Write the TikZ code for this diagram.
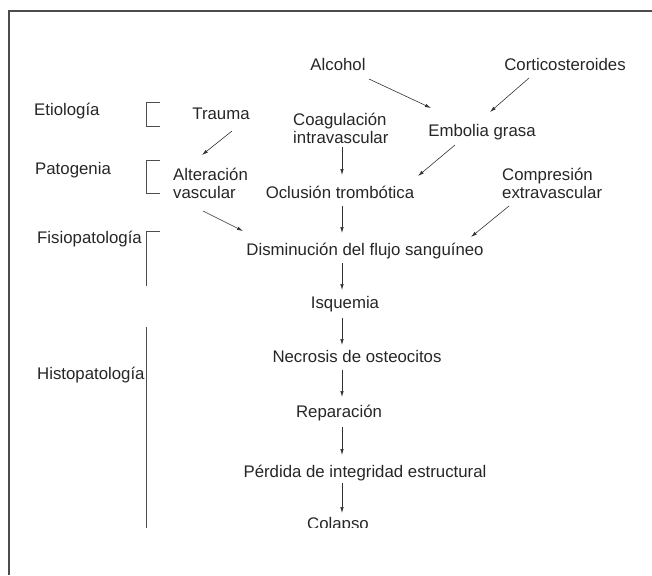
\documentclass[tikz,border=0pt]{standalone}
\usepackage{fontspec}
\setmainfont{Liberation Sans}
\usetikzlibrary{arrows.meta}
\newcommand\dfont{\fontsize{16.8}{18}\selectfont}
\begin{document}
\begin{tikzpicture}[x=1pt,y=-1pt,
 txt/.style={inner sep=0pt, font=\dfont, text=black!85},
 lbl/.style={txt, anchor=base west},
 ctr/.style={txt, anchor=base},
 two/.style={txt, anchor=north west, align=left},
 arr/.style={draw=black!80, line width=0.6pt, -{Latex[length=6pt,width=3.5pt]}},
 brk/.style={draw=black!70, line width=0.8pt},
 frame/.style={draw=black!70, line width=1.6pt}]
\useasboundingbox (0,0) rectangle (652,575);
% frame
\draw[frame] (652,11) -- (9,11) -- (9,575);
% stage labels
\node[lbl] (eti) at (34,115) {Etiología};
\node[lbl] (pat) at (35,174) {Patogenia};
\node[lbl] (fis) at (37,243) {Fisiopatología};
\node[lbl] (his) at (37,379) {Histopatología};
% brackets
\draw[brk] (160,102) -- (146,102) -- (146,126) -- (160,126);
\draw[brk] (160,160) -- (146,160) -- (146,193) -- (160,193);
\draw[brk] (160,231) -- (146,231) -- (146,286);
\draw[brk] (146,327) -- (146,528);
% nodes
\node[ctr] (alc) at (338,71) {Alcohol};
\node[ctr] (cort) at (565,71) {Corticosteroides};
\node[ctr] (tra) at (221,119) {Trauma};
\node[two] (coag) at (293,113) {Coagulación\\intravascular};
\node[ctr] (emb) at (482,136) {Embolia grasa};
\node[two] (alt) at (173,168) {Alteración\\vascular};
\node[ctr] (ocl) at (340,198) {Oclusión trombótica};
\node[two] (comp) at (502,168) {Compresión\\extravascular};
\node[ctr] (dis) at (365,255) {Disminución del flujo sanguíneo};
\node[ctr] (isq) at (345,308) {Isquemia};
\node[ctr] (nec) at (357,362) {Necrosis de osteocitos};
\node[ctr] (rep) at (339,417) {Reparación};
\node[ctr] (per) at (365,477) {Pérdida de integridad estructural};
\begin{scope}
\clip (250,490) rectangle (450,527.5);
\node[ctr] (col) at (338,529) {Colapso};
\end{scope}
% connectors
\draw[arr] ([shift={(31,8)}]alc.base) -- ([shift={(-51,-28)}]emb.base);
\draw[arr] ([shift={(-36,7)}]cort.base) -- ([shift={(8,-24)}]emb.base);
\draw[arr] ([shift={(11,12)}]tra.base) -- ([shift={(29,-13)}]alt.north west);
\draw[arr] ([shift={(49,34)}]coag.north west) -- ([shift={(2,-23)}]ocl.base);
\draw[arr] ([shift={(-27,9)}]emb.base) -- ([shift={(78,-22)}]ocl.base);
\draw[arr] ([shift={(30,43)}]alt.north west) -- ([shift={(-122,-24)}]dis.base);
\draw[arr] ([shift={(2,8)}]ocl.base) -- ([shift={(-23,-22)}]dis.base);
\draw[arr] ([shift={(7,38)}]comp.north west) -- ([shift={(106,-18)}]dis.base);
\draw[arr] ([shift={(-23,8)}]dis.base) -- ([shift={(-3,-18)}]isq.base);
\draw[arr] ([shift={(-3,10)}]isq.base) -- ([shift={(-15,-17)}]nec.base);
\draw[arr] ([shift={(-15,8)}]nec.base) -- ([shift={(3,-20)}]rep.base);
\draw[arr] ([shift={(3,10)}]rep.base) -- ([shift={(-23,-22)}]per.base);
\draw[arr] ([shift={(-23,6)}]per.base) -- ([shift={(4,-16)}]col.base);
\end{tikzpicture}
\end{document}
